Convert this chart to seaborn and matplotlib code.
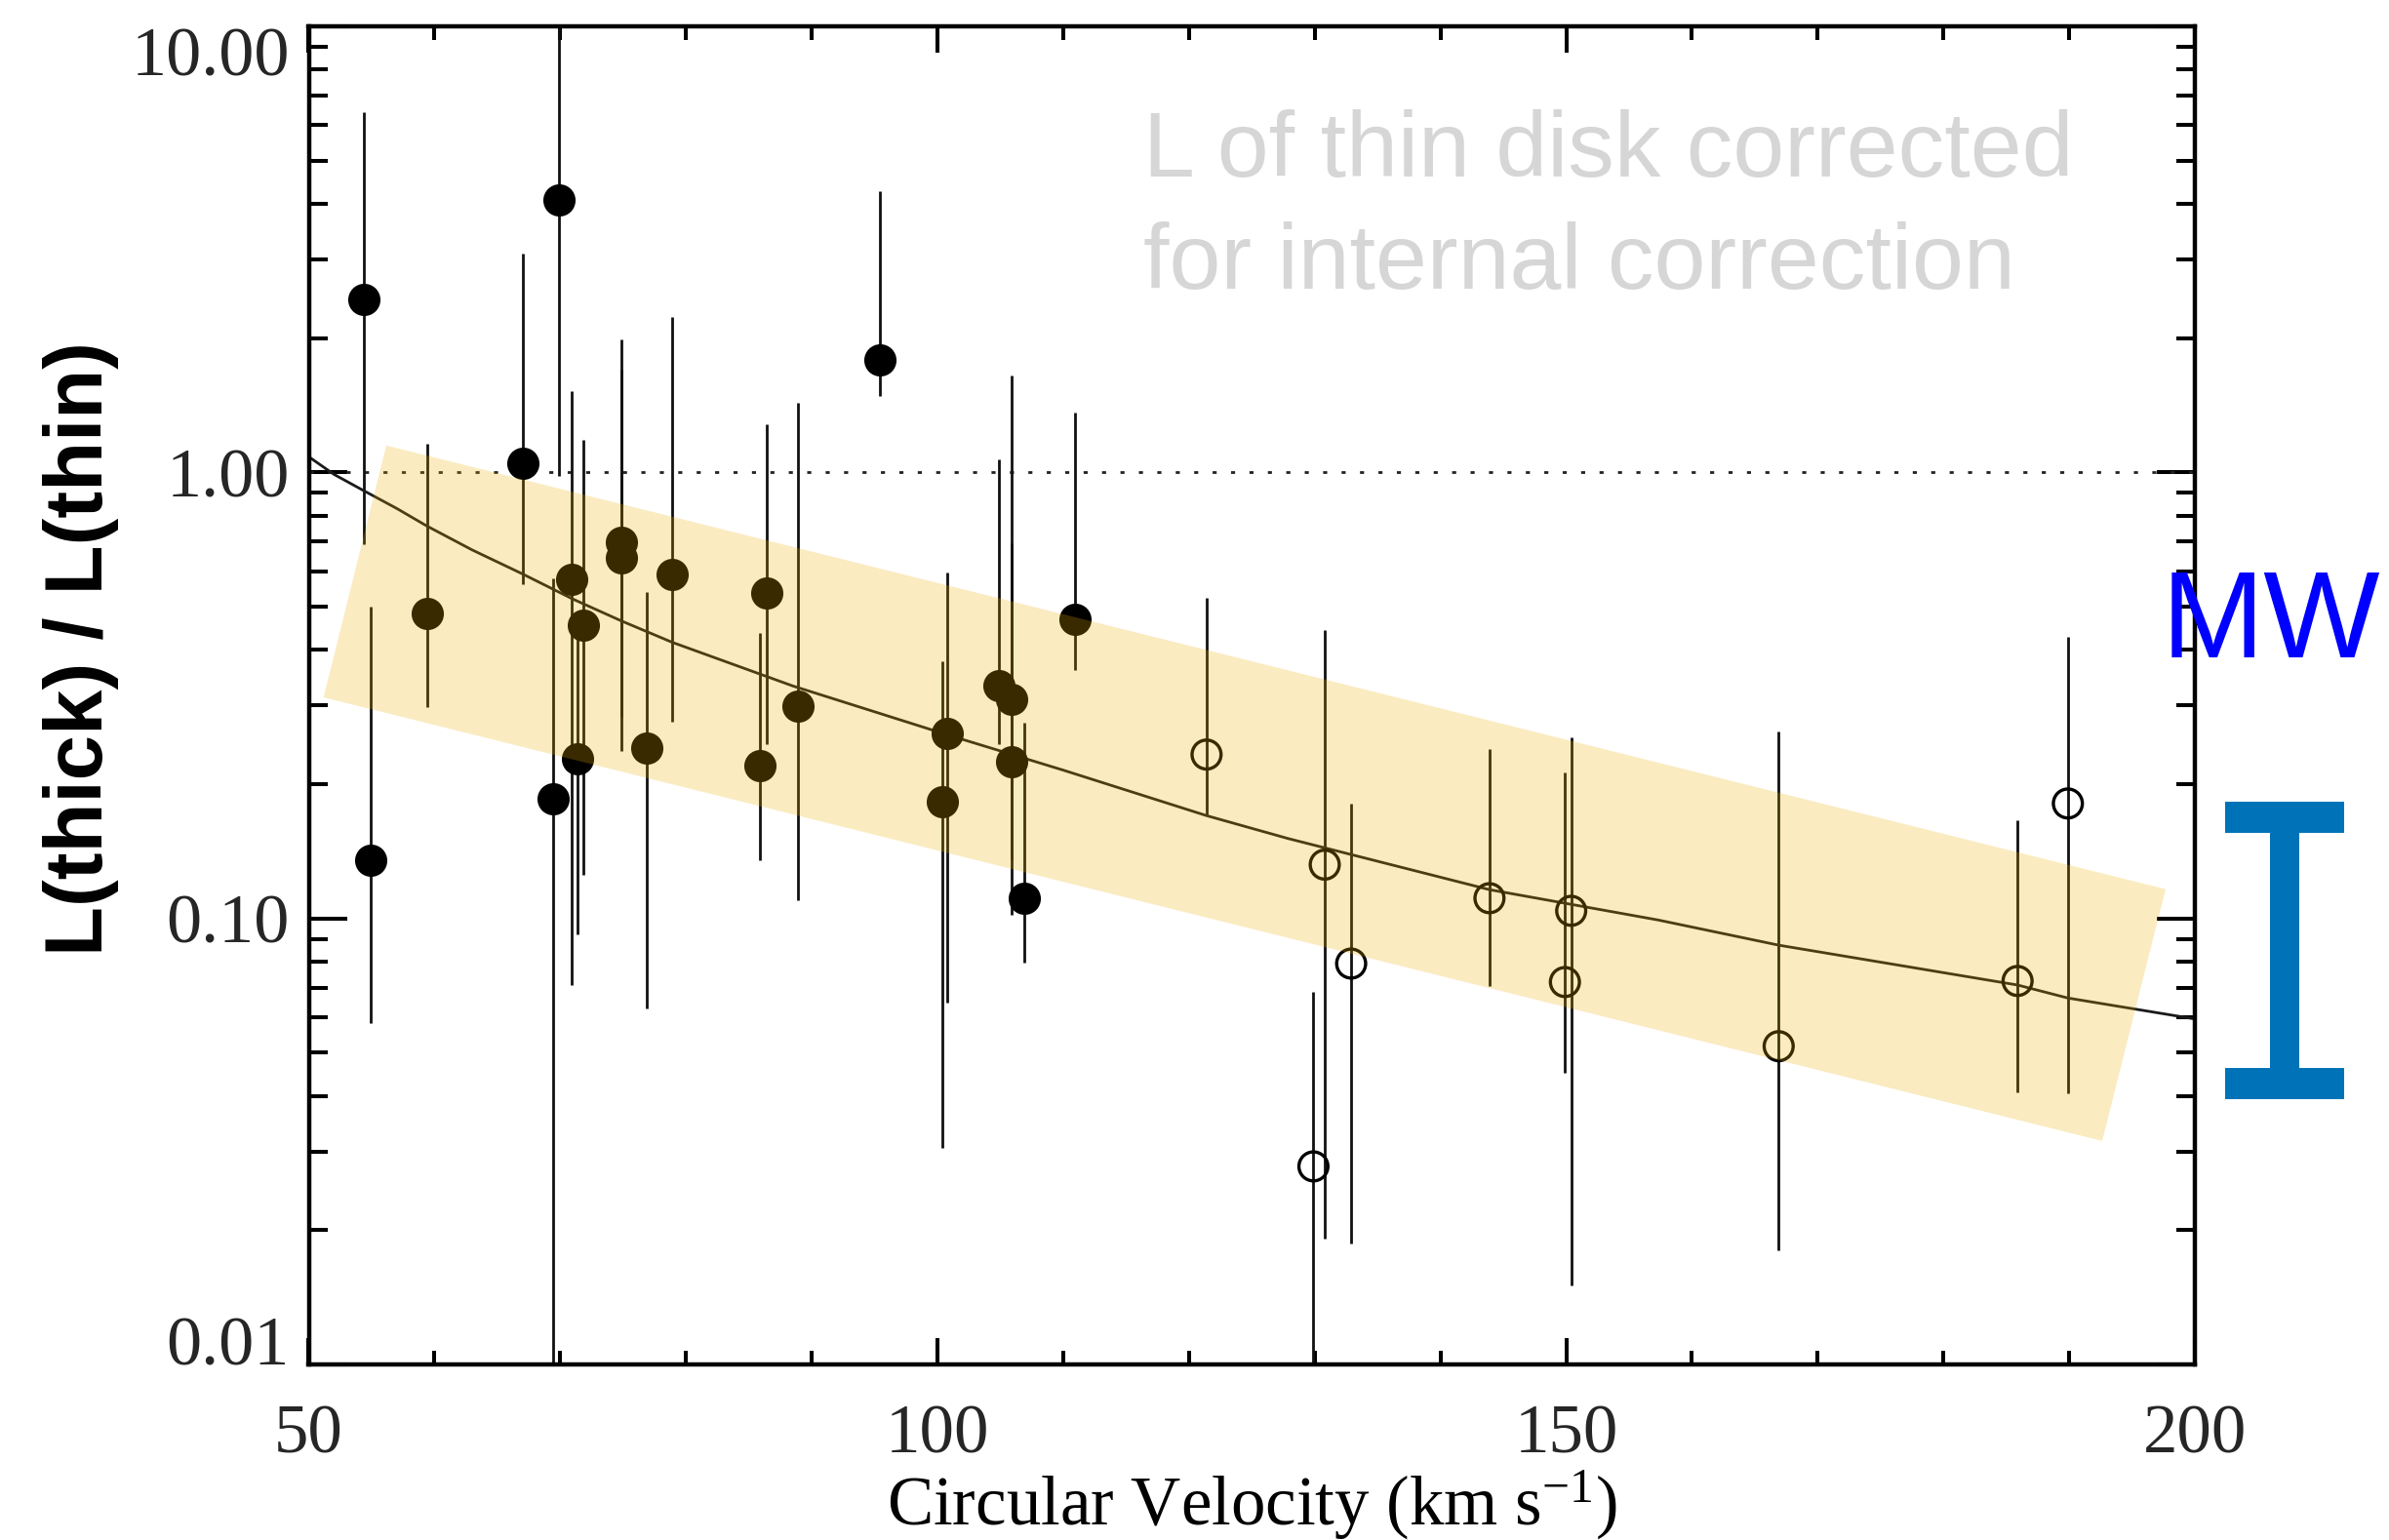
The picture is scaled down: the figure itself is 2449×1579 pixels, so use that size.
import numpy as np
import pandas as pd
import matplotlib
matplotlib.use("Agg")
import matplotlib.pyplot as plt
from matplotlib.ticker import FixedLocator, NullFormatter, FixedFormatter
import seaborn as sns

# ---------------- data ----------------
vel_filled = [54.4, 54.9, 59.4, 67.0, 69.9, 69.4, 70.9, 71.8, 71.4, 74.9, 74.9, 76.9,
              78.9, 85.9, 86.4, 88.9, 95.4, 100.4, 100.8, 104.9, 105.9, 105.9, 106.9, 110.9]
ratio_filled = [2.44, 0.135, 0.482, 1.05, 4.09, 0.185, 0.576, 0.455, 0.228, 0.697, 0.643, 0.241,
                0.590, 0.220, 0.536, 0.299, 1.79, 0.183, 0.260, 0.332, 0.310, 0.224, 0.111, 0.468]
low_filled = [0.690, 0.0583, 0.298, 0.561, 0.98, 0.005, 0.0709, 0.125, 0.0921, 0.283, 0.237, 0.0628,
              0.276, 0.135, 0.246, 0.110, 1.48, 0.0306, 0.0648, 0.246, 0.136, 0.102, 0.0797, 0.361]
high_filled = [6.42, 0.501, 1.16, 3.09, 15.0, 0.579, 1.52, 1.18, 0.434, 1.99, 1.70, 0.540,
               2.23, 0.436, 1.28, 1.43, 4.28, 0.377, 0.597, 1.07, 1.65, 0.695, 0.274, 1.36]

vel_open = [121.4, 129.9, 130.8, 132.9, 143.9, 149.9, 150.4, 166.9, 185.9, 189.9]
ratio_open = [0.233, 0.0278, 0.132, 0.0792, 0.111, 0.0720, 0.104, 0.0517, 0.0724, 0.181]
low_open = [0.170, 0.005, 0.0191, 0.0187, 0.0706, 0.0451, 0.0150, 0.0180, 0.0408, 0.0406]
high_open = [0.522, 0.0686, 0.442, 0.181, 0.240, 0.212, 0.255, 0.262, 0.166, 0.428]

fit_vel = [50.0, 52.0, 54.4, 57.0, 59.4, 63.0, 67.0, 71.0, 74.9, 78.9, 88.5, 100.8,
           110.0, 121.4, 127.9, 143.9, 157.3, 166.9, 185.9, 189.9, 197.7, 200.0]
fit_ratio = [1.084, 0.99, 0.909, 0.83, 0.758, 0.67, 0.592, 0.52, 0.464, 0.416, 0.332, 0.258,
             0.215, 0.170, 0.151, 0.116, 0.0992, 0.0871, 0.0709, 0.0663, 0.061, 0.0595]

band_vel = [56.17, 197.67, 192.63, 51.18]
band_ratio = [1.149, 0.1163, 0.0317, 0.3131]

mw_vel = 207.1
mw_low, mw_high = 0.0427, 0.1685

yticks = [0.01, 0.1, 1.0, 10.0]
ytick_labels = ["0.01", "0.10", "1.00", "10.00"]
xticks = [50, 100, 150, 200]
xtick_labels = ["50", "100", "150", "200"]

note_lines = ["L of thin disk corrected", "for internal correction"]

# ---------------- styling ----------------
sns.set_theme(style="ticks")
plt.rcParams["font.family"] = ["Liberation Serif", "DejaVu Serif"]
plt.rcParams["mathtext.fontset"] = "custom"
plt.rcParams["mathtext.rm"] = "Liberation Serif"
plt.rcParams["mathtext.it"] = "Liberation Serif:italic"

fig = plt.figure(figsize=(24.49, 15.79), dpi=100)
ax = fig.add_axes([316.5 / 2449, 1 - 1399 / 1579, 1933.5 / 2449, 1372 / 1579])
ax.set_yscale("log")

# error bars
ax.errorbar(vel_filled, ratio_filled,
            yerr=[np.array(ratio_filled) - np.array(low_filled),
                  np.array(high_filled) - np.array(ratio_filled)],
            fmt="none", ecolor="#111111", elinewidth=2.0, capsize=0, zorder=2)
ax.errorbar(vel_open, ratio_open,
            yerr=[np.array(ratio_open) - np.array(low_open),
                  np.array(high_open) - np.array(ratio_open)],
            fmt="none", ecolor="#111111", elinewidth=2.0, capsize=0, zorder=2)

# fit curve
fit_df = pd.DataFrame({"v": fit_vel, "r": fit_ratio})
sns.lineplot(data=fit_df, x="v", y="r", ax=ax, color="#1a1a1a", linewidth=2.0,
             estimator=None, sort=False, zorder=2)

# reference line at 1
ax.axhline(1.0, color="#222222", linewidth=2.0, linestyle=(0, (1.5, 5.3)), zorder=1)

# points
df_f = pd.DataFrame({"v": vel_filled, "r": ratio_filled})
df_o = pd.DataFrame({"v": vel_open, "r": ratio_open})
sns.scatterplot(data=df_f, x="v", y="r", ax=ax, marker="o", s=21.4 ** 2,
                color="black", edgecolor="black", linewidth=2.4, zorder=3, legend=False)
sns.scatterplot(data=df_o, x="v", y="r", ax=ax, marker="o", s=21.4 ** 2,
                facecolor="none", edgecolor="black", linewidth=2.4, zorder=3, legend=False)

# translucent band on top
ax.fill(band_vel, band_ratio, color="#efad00", alpha=0.243, linewidth=0, zorder=4)

# MW bar outside the axes
mw_c = np.sqrt(mw_low * mw_high)
cont = ax.errorbar([mw_vel], [mw_c], yerr=[[mw_c - mw_low], [mw_high - mw_c]],
                   fmt="none", ecolor="#0073b8", elinewidth=21.6, capsize=43.9,
                   capthick=23.0, zorder=5)
for child in cont.get_children():
    child.set_clip_on(False)

# axes limits / ticks
ax.set_xlim(50, 200)
ax.set_ylim(0.01, 10.0)
ax.xaxis.set_major_locator(FixedLocator(xticks))
ax.xaxis.set_major_formatter(FixedFormatter(xtick_labels))
ax.xaxis.set_minor_locator(FixedLocator(list(range(60, 200, 10))))
ax.xaxis.set_minor_formatter(NullFormatter())
ax.yaxis.set_major_locator(FixedLocator(yticks))
ax.yaxis.set_major_formatter(FixedFormatter(ytick_labels))
minor_y = [m * d for d in (0.01, 0.1, 1.0) for m in range(2, 10)]
ax.yaxis.set_minor_locator(FixedLocator(minor_y))
ax.yaxis.set_minor_formatter(NullFormatter())

ax.tick_params(axis="both", which="both", direction="in", top=True, right=True,
               color="black", width=2.9)
ax.tick_params(axis="y", which="major", length=27.9, pad=14, labelsize=52)
ax.tick_params(axis="y", which="minor", length=14.0)
ax.tick_params(axis="x", which="major", length=19.7, pad=29, labelsize=51)
ax.tick_params(axis="x", which="minor", length=9.9)
for sp in ax.spines.values():
    sp.set_visible(True)
    sp.set_linewidth(3.2)
    sp.set_color("black")
ax.set_facecolor("white")
ax.grid(False)

ticks = ax.yaxis.get_major_ticks()
ticks[0].label1.set_verticalalignment("baseline")
ticks[-1].label1.set_verticalalignment("top")

ax.set_xlabel(r"Circular Velocity (km s$^{\mathrm{-1}}$)", fontsize=51, color="black")
ax.xaxis.set_label_coords(0.5, -0.077)
ax.set_ylabel("L(thick) / L(thin)", fontsize=60, fontweight="bold",
              family=["Liberation Sans", "DejaVu Sans"], color="black")
ax.yaxis.set_label_coords(-0.1006, 0.535)

for line_text, base_px in zip(note_lines, [180.7, 295.7]):
    fig.text(1172 / 2449, 1 - base_px / 1579, line_text, ha="left", va="baseline",
             fontsize=68.5, color="#d6d6d6", family=["Liberation Sans", "DejaVu Sans"])

fig.text(2216 / 2449, 1 - 674 / 1579, "MW", ha="left", va="baseline", fontsize=91,
         color="#0000ff", family=["Liberation Sans", "DejaVu Sans"])

fig.savefig("out.png", dpi=100, facecolor="white")
